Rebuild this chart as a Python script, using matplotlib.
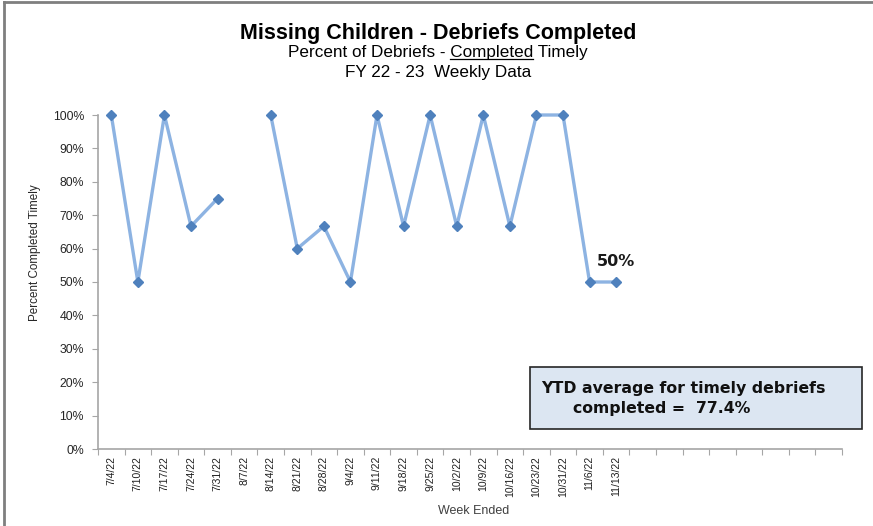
import numpy as np
import matplotlib
matplotlib.use("Agg")
import matplotlib.pyplot as plt
from matplotlib.patches import Rectangle
from matplotlib.lines import Line2D

weeks = ["7/4/22", "7/10/22", "7/17/22", "7/24/22", "7/31/22", "8/7/22", "8/14/22",
         "8/21/22", "8/28/22", "9/4/22", "9/11/22", "9/18/22", "9/25/22", "10/2/22",
         "10/9/22", "10/16/22", "10/23/22", "10/31/22", "11/6/22", "11/13/22",
         "", "", "", "", "", "", "", ""]
pct = [1.00, 0.50, 1.00, 0.667, 0.75, np.nan, 1.00,
       0.60, 0.667, 0.50, 1.00, 0.667, 1.00, 0.667,
       1.00, 0.667, 1.00, 1.00, 0.50, 0.50]
yticks = [0.0, 0.1, 0.2, 0.3, 0.4, 0.5, 0.6, 0.7, 0.8, 0.9, 1.0]
ytd_avg = 77.4
last_label = "50%"

W, H = 873, 526
fig = plt.figure(figsize=(W / 100, H / 100), dpi=100)
narrow = ["Liberation Sans Narrow", "Liberation Sans", "DejaVu Sans"]
arial = ["Liberation Sans", "DejaVu Sans"]

# outer frame (top & left lines)
fig.add_artist(Line2D([4 / W, 4 / W], [0, 1 - 2 / H], transform=fig.transFigure,
                      color="#7f7f7f", lw=2))
fig.add_artist(Line2D([4 / W, 1], [1 - 2 / H, 1 - 2 / H], transform=fig.transFigure,
                      color="#7f7f7f", lw=2))

ax = fig.add_axes([98 / W, 1 - 449 / H, (842 - 98) / W, (449 - 115) / H])
n = len(weeks)
x = np.arange(len(pct))
ax.plot(x, pct, color="#8db3e2", lw=2.4, marker="D", markersize=5.5,
        markerfacecolor="#4f81bd", markeredgecolor="#4f81bd", zorder=3,
        clip_on=False)
ax.set_xlim(-0.5, n - 0.5)
ax.set_ylim(0, 1.0)
for s in ["top", "right"]:
    ax.spines[s].set_visible(False)
for s in ["left", "bottom"]:
    ax.spines[s].set_color("#a6a6a6")
    ax.spines[s].set_linewidth(1.2)
    ax.spines[s].set_zorder(1)

ax.set_yticks(yticks)
ax.set_yticklabels([f"{int(round(v * 100))}%" for v in yticks],
                   fontsize=8.8, color="#262626", family=arial)
ax.tick_params(axis="y", direction="out", length=4, color="#a6a6a6", pad=6)

ax.set_xticks(np.arange(-0.5, n, 1.0))
ax.set_xticklabels([])
ax.tick_params(axis="x", which="major", direction="out", length=4, color="#a6a6a6")
ax.set_xticks(np.arange(n), minor=True)
ax.set_xticklabels(weeks, minor=True, rotation=90, fontsize=7.5,
                   color="#1f1f1f", family=narrow, va="top", ha="center")
ax.tick_params(axis="x", which="minor", length=0, pad=5)

# last value label
ax.annotate(last_label, xy=(len(pct) - 1, pct[-1]), xytext=(0, 9),
            textcoords="offset points", fontsize=11.5, fontweight="bold",
            family=["DejaVu Sans"], color="#1a1a1a", ha="center", va="bottom")

# titles
fig.text(438 / W, 1 - 34 / H, "Missing Children - Debriefs Completed",
         ha="center", va="center", fontsize=15.5, fontweight="bold", family=narrow)
sub_size = 12.3
sub = fig.text(438 / W, 1 - 53 / H, "Percent of Debriefs - Completed Timely",
               ha="center", va="center", fontsize=sub_size, family=narrow)
fig.text(438 / W, 1 - 72 / H, "FY 22 - 23  Weekly Data",
         ha="center", va="center", fontsize=sub_size, family=narrow)

# underline "Completed"
fig.canvas.draw()
r = fig.canvas.get_renderer()
bb = sub.get_window_extent(r)
tmp = fig.text(0, 0, "Percent of Debriefs - ", fontsize=sub_size, family=narrow)
w_pre = tmp.get_window_extent(r).width
tmp.set_text("Completed")
w_word = tmp.get_window_extent(r).width
tmp.remove()
x0 = (bb.x0 + w_pre) / W
x1 = (bb.x0 + w_pre + w_word) / W
yu = 1 - 59.5 / H
fig.add_artist(Line2D([x0, x1], [yu, yu], transform=fig.transFigure,
                      color="black", lw=0.9))

# axis labels
fig.text(35 / W, 1 - 253 / H, "Percent Completed Timely", rotation=90,
         ha="center", va="center", fontsize=8.4, family=narrow, color="#262626")
fig.text(474 / W, 1 - 511 / H, "Week Ended", ha="center", va="center",
         fontsize=9, family=arial, color="#404040")

# YTD box
fig.add_artist(Rectangle((530 / W, 1 - 429 / H), (862 - 530) / W, (429 - 367) / H,
                         transform=fig.transFigure, facecolor="#dce6f2",
                         edgecolor="#262626", lw=1.2))
fig.text(541 / W, 1 - 388 / H, "YTD average for timely debriefs",
         ha="left", va="center", fontsize=11.3, fontweight="bold",
         family=["DejaVu Sans"], color="#111111")
fig.text(573 / W, 1 - 408 / H, f"completed =  {ytd_avg}%",
         ha="left", va="center", fontsize=11.3, fontweight="bold",
         family=["DejaVu Sans"], color="#111111")

fig.savefig("out.png", dpi=100)
